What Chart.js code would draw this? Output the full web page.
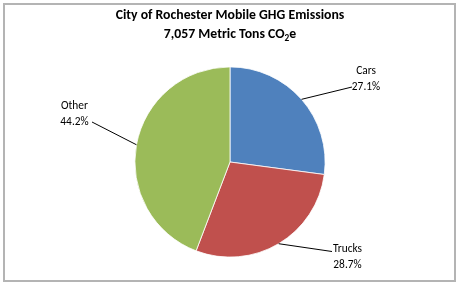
<!DOCTYPE html>
<html>
<head>
<meta charset="utf-8">
<script src="https://cdn.jsdelivr.net/npm/chart.js@4/dist/chart.umd.min.js"></script>
<style>
  html, body { margin: 0; padding: 0; background: #ffffff; }
  #wrap { position: relative; width: 457px; height: 284px; }
</style>
</head>
<body>
<div id="wrap"><canvas id="c" width="457" height="284"></canvas></div>
<script>
const categories = ["Cars", "Trucks", "Other"];
const shares = [27.1, 28.7, 44.2];
const sliceColors = ["#4F81BD", "#C0504D", "#9BBB59"];
const titleLine1 = "City of Rochester Mobile GHG Emissions";
const titleLine2Parts = ["7,057 Metric Tons CO", "2", "e"];

const FONT = "Carlito, Lato, 'Liberation Sans', sans-serif";

// label anchor (center of the two-line block) and leader line end for each slice
const labelPlacement = [
  { x: 366, y: 79, lx: 352, ly: 87 },
  { x: 347.5, y: 257, lx: 332, ly: 251.5 },
  { x: 74.5, y: 114, lx: 92, ly: 122 }
];

function fitSize(ctx, weight, text, target, base) {
  ctx.font = weight + base + "px " + FONT;
  const w = ctx.measureText(text).width;
  return base * target / w;
}

const decorPlugin = {
  id: 'decor',
  afterDatasetsDraw(chart) {
    const ctx = chart.ctx;
    const meta = chart.getDatasetMeta(0);
    ctx.save();
    const labelSize = fitSize(ctx, "", "Other", 27, 11);
    // leader lines + labels
    meta.data.forEach((arc, i) => {
      const p = labelPlacement[i];
      const mid = (arc.startAngle + arc.endAngle) / 2;
      const sx = arc.x + Math.cos(mid) * arc.outerRadius;
      const sy = arc.y + Math.sin(mid) * arc.outerRadius;
      ctx.beginPath();
      ctx.strokeStyle = '#000000';
      ctx.lineWidth = 1;
      ctx.moveTo(sx, sy);
      ctx.lineTo(p.lx, p.ly);
      ctx.stroke();
      ctx.fillStyle = '#000000';
      ctx.font = labelSize + "px " + FONT;
      ctx.textAlign = 'center';
      ctx.textBaseline = 'middle';
      ctx.fillText(categories[i], p.x, p.y - 7.5);
      ctx.fillText(shares[i].toFixed(1) + '%', p.x, p.y + 8);
    });
    // title
    const tSize = fitSize(ctx, "bold ", titleLine1, 229, 13);
    ctx.fillStyle = '#000000';
    ctx.textBaseline = 'middle';
    ctx.font = "bold " + tSize + "px " + FONT;
    ctx.textAlign = 'center';
    ctx.fillText(titleLine1, 230, 16);
    ctx.textAlign = 'left';
    const bigFont = "bold " + tSize + "px " + FONT;
    const smallFont = "bold " + (tSize * 0.68) + "px " + FONT;
    ctx.font = bigFont;
    const w0 = ctx.measureText(titleLine2Parts[0]).width;
    const w2 = ctx.measureText(titleLine2Parts[2]).width;
    ctx.font = smallFont;
    const w1 = ctx.measureText(titleLine2Parts[1]).width;
    let x = 230 - (w0 + w1 + w2) / 2;
    ctx.font = bigFont;
    ctx.fillText(titleLine2Parts[0], x, 35);
    x += w0;
    ctx.font = smallFont;
    ctx.fillText(titleLine2Parts[1], x, 39);
    x += w1;
    ctx.font = bigFont;
    ctx.fillText(titleLine2Parts[2], x, 35);
    // outer border
    ctx.strokeStyle = '#b4b4b4';
    ctx.lineWidth = 2;
    ctx.strokeRect(4, 4, 451, 277);
    ctx.restore();
  }
};

new Chart(document.getElementById('c'), {
  type: 'pie',
  data: {
    labels: categories,
    datasets: [{
      data: shares,
      backgroundColor: sliceColors,
      borderColor: '#ffffff',
      borderWidth: 0.8,
      hoverOffset: 0
    }]
  },
  options: {
    responsive: false,
    animation: false,
    events: [],
    layout: { padding: { left: 134.5, right: 131.5, top: 66.5, bottom: 26.5 } },
    plugins: {
      legend: { display: false },
      tooltip: { enabled: false },
      title: { display: false }
    }
  },
  plugins: [decorPlugin]
});
</script>
</body>
</html>
